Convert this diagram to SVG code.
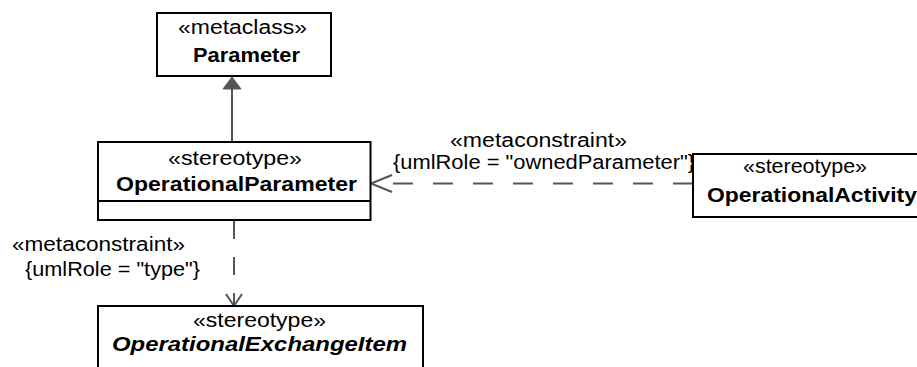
<svg xmlns="http://www.w3.org/2000/svg" width="917" height="367" viewBox="0 0 917 367">
<style>
.box{fill:#fff;stroke:#000;stroke-width:2}
.t{font-family:"Liberation Sans",Arial,sans-serif;font-size:20px;fill:#000}
.b{font-weight:bold}
.bi{font-weight:bold;font-style:italic}
.con{fill:none;stroke:#555;stroke-width:2}
.dash{stroke-dasharray:20 20}
.vdash{stroke-dasharray:18 18}
</style>
<rect width="917" height="367" fill="#fff"/>
<g id="connectors">
  <line class="con" x1="232" y1="141" x2="232" y2="89"/>
  <polygon points="232,77 223,89 241,89" fill="#555" stroke="#555" stroke-width="1"/>
  <line class="con dash" x1="693" y1="183.5" x2="372" y2="183.5"/>
  <polyline class="con" points="392,175 371,183.5 392,192"/>
  <line class="con vdash" x1="234" y1="221" x2="234" y2="305"/>
  <polyline class="con" points="226,294 234,306 242,294"/>
  <text class="t" x="450" y="147" textLength="177" lengthAdjust="spacingAndGlyphs">«metaconstraint»</text>
  <text class="t" x="393" y="169" textLength="302" lengthAdjust="spacingAndGlyphs">{umlRole = "ownedParameter"}</text>
  <text class="t" x="12" y="251" textLength="173" lengthAdjust="spacingAndGlyphs">«metaconstraint»</text>
  <text class="t" x="25" y="276" textLength="175" lengthAdjust="spacingAndGlyphs">{umlRole = "type"}</text>
</g>
<g id="Parameter">
  <rect class="box" x="157" y="13" width="174" height="63"/>
  <text class="t" x="178" y="34" textLength="129" lengthAdjust="spacingAndGlyphs">«metaclass»</text>
  <text class="t b" x="193" y="62" textLength="107" lengthAdjust="spacingAndGlyphs">Parameter</text>
</g>
<g id="OperationalParameter">
  <rect class="box" x="98" y="142" width="272.5" height="78"/>
  <line x1="98" y1="201" x2="370.5" y2="201" stroke="#000" stroke-width="2"/>
  <text class="t" x="168" y="165" textLength="134" lengthAdjust="spacingAndGlyphs">«stereotype»</text>
  <text class="t b" x="116" y="191" textLength="241" lengthAdjust="spacingAndGlyphs">OperationalParameter</text>
</g>
<g id="OperationalActivity">
  <rect class="box" x="693" y="154" width="240" height="63"/>
  <text class="t" x="743" y="173" textLength="124" lengthAdjust="spacingAndGlyphs">«stereotype»</text>
  <text class="t b" x="707" y="202" textLength="210" lengthAdjust="spacingAndGlyphs">OperationalActivity</text>
</g>
<g id="OperationalExchangeItem">
  <rect class="box" x="98" y="306" width="325" height="80"/>
  <text class="t" x="193" y="327" textLength="133" lengthAdjust="spacingAndGlyphs">«stereotype»</text>
  <text class="t bi" x="112" y="351" textLength="295" lengthAdjust="spacingAndGlyphs">OperationalExchangeItem</text>
</g>
</svg>
